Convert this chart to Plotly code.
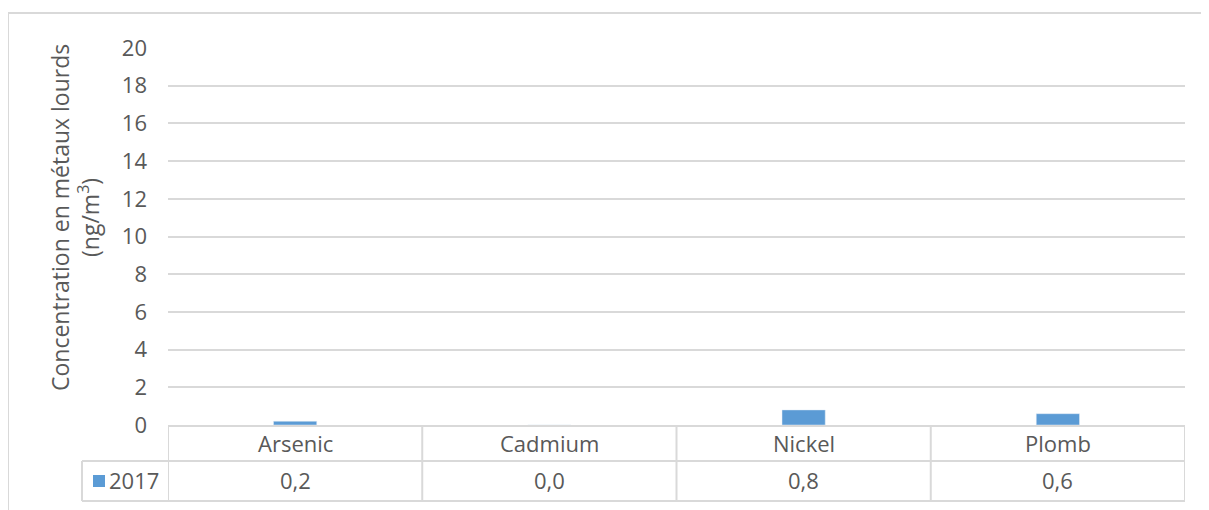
import plotly.graph_objects as go

categories = ["Arsenic", "Cadmium", "Nickel", "Plomb"]
values_2017 = [0.2, 0.0, 0.8, 0.6]
series_name = "2017"
y_ticks = [0, 2, 4, 6, 8, 10, 12, 14, 16, 18, 20]
y_title = "Concentration en métaux lourds<br>(ng/m<sup>3</sup>)"

# the page body has an 8px margin; all reference pixel positions below are
# window coordinates and are converted by subtracting OFF
OFF = 8
W, H = 1209, 510
L, R, T, B = 168 - OFF, 24 + OFF, 48 - OFF, 85 + OFF
PW, PH = W - L - R, H - T - B

def px(xp):
    return (xp - OFF - L) / PW

def py(yp):
    return (H - B - (yp - OFF)) / PH

BAR = "#5B9BD5"
GRID = "#d9d9d9"
TXT = "#595959"
FONT = "Open Sans"
FS = 22

fig = go.Figure()
fig.add_trace(go.Bar(x=categories, y=values_2017, name=series_name,
                     marker_color=BAR, width=0.17))

shapes = []
line = dict(color=GRID, width=2)
# outer frame (top and left)
shapes.append(dict(type="line", xref="paper", yref="paper", x0=px(8), x1=px(1212), y0=py(13), y1=py(13), line=line))
shapes.append(dict(type="line", xref="paper", yref="paper", x0=px(8), x1=px(8), y0=py(13), y1=py(515), line=line))
# table horizontal lines
shapes.append(dict(type="line", xref="paper", yref="paper", x0=px(82), x1=1, y0=py(461), y1=py(461), line=line))
shapes.append(dict(type="line", xref="paper", yref="paper", x0=px(82), x1=1, y0=py(501), y1=py(501), line=line))
# legend cell left border
shapes.append(dict(type="line", xref="paper", yref="paper", x0=px(82), x1=px(82), y0=py(461), y1=py(501), line=line))
# column separators at category boundaries
for i in range(len(categories) + 1):
    shapes.append(dict(type="line", xref="x", yref="paper", x0=i - 0.5, x1=i - 0.5,
                       y0=0, y1=py(501), line=line))
# legend key square
shapes.append(dict(type="rect", xref="paper", yref="paper", x0=px(93), x1=px(105),
                   y0=py(487), y1=py(475), fillcolor=BAR, line=dict(width=0)))

annotations = []
for c, v in zip(categories, values_2017):
    annotations.append(dict(x=c, xref="x", y=py(443), yref="paper", text=c,
                            showarrow=False, xanchor="center", yanchor="middle",
                            font=dict(family=FONT, size=FS, color=TXT)))
    annotations.append(dict(x=c, xref="x", y=py(480), yref="paper", text=f"{v:.1f}".replace(".", ","),
                            showarrow=False, xanchor="center", yanchor="middle",
                            font=dict(family=FONT, size=FS, color=TXT)))
annotations.append(dict(x=px(107), xref="paper", y=py(480), yref="paper", text=series_name,
                        showarrow=False, xanchor="left", yanchor="middle",
                        font=dict(family=FONT, size=FS, color=TXT)))
annotations.append(dict(x=px(75), xref="paper", y=py(218), yref="paper", text=y_title,
                        textangle=-90, showarrow=False, xanchor="center", yanchor="middle",
                        font=dict(family=FONT, size=23, color=TXT)))

fig.update_layout(
    width=W, height=H,
    margin=dict(l=L, r=R, t=T, b=B, pad=0),
    paper_bgcolor="white", plot_bgcolor="white",
    showlegend=False,
    shapes=shapes, annotations=annotations,
    font=dict(family=FONT, color=TXT, size=FS),
    xaxis=dict(range=[-0.5, len(categories) - 0.5], showgrid=False, zeroline=False,
               showline=True, linecolor=GRID, linewidth=2, ticks="", showticklabels=False),
    yaxis=dict(range=[0, 20], tickvals=y_ticks, showgrid=True, gridcolor=GRID, gridwidth=1.5,
               zeroline=False, showline=False, ticks="",
               tickfont=dict(family=FONT, size=FS, color=TXT), ticklabelstandoff=20),
)

fig.write_html("out.html")
